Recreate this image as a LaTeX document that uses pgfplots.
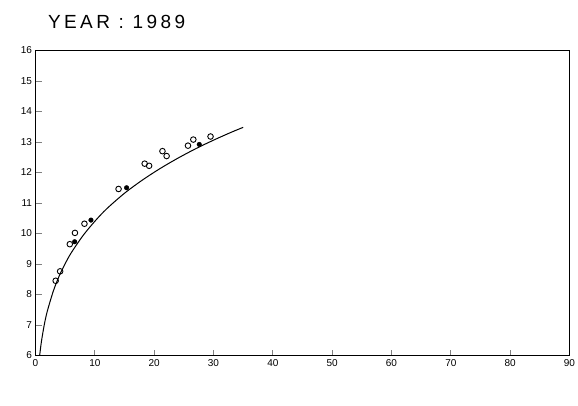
\documentclass[border=0pt]{standalone}
\usepackage{fontspec}
\setmainfont{Liberation Sans}
\newfontfamily\titlefont[LetterSpace=18]{Liberation Sans}
\usepackage{pgfplots}
\pgfplotsset{compat=1.18}
\begin{document}
\begin{tikzpicture}
\begin{axis}[
  name=ax,
  scale only axis, width=534pt, height=305pt,
  xmin=0, xmax=90, ymin=6, ymax=16,
  xtick={0,10,...,90}, ytick={6,7,...,16},
  tick align=inside, major tick length=6pt,
  xtick pos=bottom, ytick pos=left,
  axis line style={line width=1.3pt},
  tick style={line width=1pt},
  /pgf/number format/assume math mode=true,
]
% fitted curve
\addplot[black, line width=1pt, smooth, no marks] coordinates {
 (0.7,6.0) (1,6.46) (1.5,7.03) (2,7.46) (3,8.11) (4,8.61) (5,9.01) (6,9.36)
 (8,9.93) (10,10.40) (12,10.81) (15,11.32) (18,11.75) (21,12.13) (24,12.47)
 (27,12.78) (30,13.06) (33,13.32) (35,13.48)
};
% open circles
\addplot[only marks, mark=o, mark size=2.8pt, mark options={line width=0.9pt, fill=white}] coordinates {
 (3.4,8.45) (4.15,8.76) (5.78,9.65) (6.65,10.02) (8.25,10.32) (14.0,11.46)
 (18.4,12.29) (19.15,12.22) (21.4,12.7) (22.1,12.54) (25.7,12.88)
};
% filled markers
\addplot[only marks, mark=*, mark size=2.3pt, black] coordinates {
 (6.6,9.73) (9.35,10.44) (15.35,11.5) (27.6,12.92)
};
% open triangles
\addplot[only marks, mark=o, mark size=2.8pt, mark options={line width=0.9pt}] coordinates {
 (26.6,13.08) (29.5,13.18)
};
\end{axis}
\node[anchor=base west, font=\titlefont\fontsize{19}{22}\selectfont] at ([xshift=9pt, yshift=22pt]ax.north west) {YEAR : 1989};
\pgfresetboundingbox
\path ([xshift=-35.5pt, yshift=-49.5pt]ax.south west) rectangle ++(578pt,405pt);
\end{tikzpicture}
\end{document}
